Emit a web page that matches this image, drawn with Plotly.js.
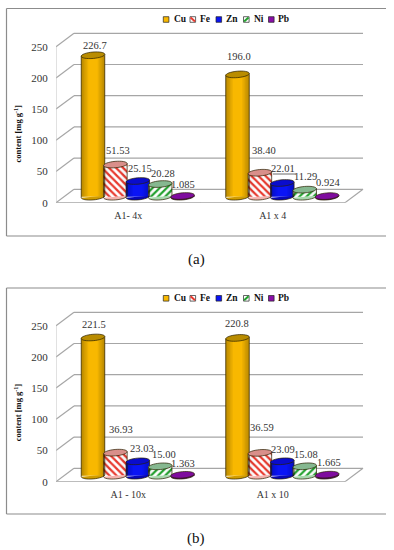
<!DOCTYPE html>
<html><head><meta charset="utf-8">
<script src="https://cdn.plot.ly/plotly-3.0.1.min.js"></script>
<style>html,body{margin:0;padding:0;background:#fff}</style></head>
<body><div id="chart" style="width:394px;height:550px"></div>
<script>
// ---- data ----
const seriesNames = ['Cu','Fe','Zn','Ni','Pb'];
const categoriesA = ['A1- 4x','A1 x 4'];
const categoriesB = ['A1 - 10x','A1 x 10'];
const cuA = ['226.7','196.0'], feA = ['51.53','38.40'], znA = ['25.15','22.01'], niA = ['20.28','11.29'], pbA = ['1.085','0.924'];
const cuB = ['221.5','220.8'], feB = ['36.93','36.59'], znB = ['23.03','23.09'], niB = ['15.00','15.08'], pbB = ['1.363','1.665'];
const yTicks = [0,50,100,150,200,250];
const yTitle = 'content [mg g<sup>-1</sup>]';

// ---- label nudges in px [dx, up], per series then group ----
const nudgeA = [[[2,10],[1,18]],[[3,14.5],[4,22.7]],[[2,13],[1,14]],[[3,11],[1,12.7]],[[0,12],[1,14]]];
const nudgeB = [[[1,12.5],[-1,14.6]],[[6,23.6],[2,25]],[[4,13.3],[1,11.3]],[[4,12.3],[1,11.3]],[[0,11.5],[2,12.4]]];

// ---- style ----
const W=394,H=550, PXU=144.5, PYU=0.624, SERIF='"Liberation Serif","Times New Roman",serif';
const styles = [
 {fill:'#f8b800',top:'#b98c00',low:'#d09c00',shade:.05},
 {fill:'#ffffff',fg:'#e8392e',pat:'\\',top:'#d98f8a',low:'#f3b3ae',shade:.012},
 {fill:'#0a14f5',top:'#0a0ccc',low:'#0808b8',shade:.04},
 {fill:'#ffffff',fg:'#22a22e',pat:'/',top:'#86b890',low:'#a8d8ae',shade:.012},
 {fill:'#8a0fa8',top:'#7f0c9e',low:'#5a0878',shade:.03}
];
const grid='#a6a6a6', HALF=11.8, BH=3.2, TILT=-5*Math.PI/180;
const G0=93-56, BASE=6/PYU;
const barX=(g,s)=>g+(G0+s*22.4)/PXU;
const px=x=>x/W, py=y=>1-y/H;

const data=[], shapes=[], annotations=[];

function ell(cx,cy,t){ // point on tilted ellipse, in data units
  const ex=HALF*Math.cos(t), ey=BH*Math.sin(t);
  const dx=ex*Math.cos(TILT)-ey*Math.sin(TILT), dy=ex*Math.sin(TILT)+ey*Math.cos(TILT);
  return [cx+dx/PXU, cy-dy/PYU];
}
function ellPath(cx,cy){let p='';for(let i=0;i<32;i++){const q=ell(cx,cy,i/32*2*Math.PI);p+=(i?'L':'M')+q[0]+','+q[1];}return p+'Z';}

function panel(sfx,cats,vals,nudge,legendY){
  const xa='x'+sfx, ya='y'+sfx;
  const wallDY=13.4/PYU, wallDX=18/PXU, xEnd=2;
  const sh=(o)=>shapes.push(Object.assign({xref:xa,yref:ya},o));
  // walls
  yTicks.forEach(t=>{
    sh({type:'line',layer:'below',x0:wallDX,x1:xEnd+wallDX,y0:t+wallDY,y1:t+wallDY,line:{color:grid,width:1.2}});
    sh({type:'line',layer:'below',x0:0,x1:wallDX,y0:t,y1:t+wallDY,line:{color:grid,width:1.2}});
  });
  sh({type:'line',layer:'below',x0:xEnd,x1:xEnd+wallDX,y0:0,y1:wallDY,line:{color:grid,width:1.2}});
  sh({type:'line',layer:'below',x0:0,x1:xEnd,y0:0,y1:0,line:{color:grid,width:1.4}});
  sh({type:'line',layer:'below',x0:0,x1:0,y0:0,y1:250,line:{color:'#c4c4c4',width:1}});
  [0,1,2].forEach(v=>sh({type:'line',layer:'below',x0:v,x1:v,y0:0,y1:-3/PYU,line:{color:grid,width:1.2}}));

  seriesNames.forEach((name,s)=>{
    const st=styles[s], v=vals[s].map(Number);
    const xs=cats.map((c,g)=>barX(g,s));
    data.push({type:'bar',name:name,x:xs,y:v,base:v.map(()=>BASE),width:2*HALF/PXU,xaxis:xa,yaxis:ya,showlegend:false,
      marker:{color:st.fill,line:{width:0},pattern:st.pat?{shape:st.pat,fgcolor:st.fg,bgcolor:'#fff',size:5,solidity:.45}:undefined},hoverinfo:'x+y'});
    cats.forEach((c,g)=>{
      const cx=xs[g], top=BASE+v[g], hw=HALF/PXU;
      // cylinder shading
      for(let i=1;i<=5;i++){
        const w=hw*(i/5)*0.6;
        [[cx-hw,cx-hw+w],[cx+hw-w,cx+hw]].forEach(r=>sh({type:'rect',layer:'above',x0:r[0],x1:r[1],y0:BASE,y1:top,line:{width:0},fillcolor:'#000',opacity:st.shade}));
      }
      // silhouette with the lower half of the base
      const b=ell(cx,BASE,Math.PI), c2=ell(cx,top,0), d=ell(cx,top,Math.PI);
      let p='M'+d[0]+','+d[1]+'L'+b[0]+','+b[1], hp='M'+b[0]+','+b[1];
      for(let i=1;i<=16;i++){const q=ell(cx,BASE,Math.PI-i/16*Math.PI);p+='L'+q[0]+','+q[1];hp+='L'+q[0]+','+q[1];}
      p+='L'+c2[0]+','+c2[1];
      sh({type:'path',layer:'above',path:hp+'Z',fillcolor:st.low,line:{width:0}});
      sh({type:'path',layer:'above',path:p,line:{color:'#2a2000',width:.7}});
      // top ellipse
      sh({type:'path',layer:'above',path:ellPath(cx,top),fillcolor:st.top,line:{color:'#2a2000',width:.7}});
      // label
      annotations.push({xref:xa,yref:ya,x:cx,y:top,text:vals[s][g],showarrow:false,xanchor:'center',yanchor:'middle',
        xshift:nudge[s][g][0],yshift:nudge[s][g][1],font:{family:SERIF,size:10.5,color:'#333'}});
    });
  });
  // axis title
  annotations.push({xref:'paper',yref:'paper',x:px(18),y:py(legendY+114),text:yTitle,textangle:-90,showarrow:false,
    xanchor:'center',yanchor:'middle',font:{family:SERIF,size:8.5,color:'#111',weight:700}});
  // legend
  const lx=[163.3,190,216,243.5,268.5], tx=[171.5,198,223.5,251.5,276];
  seriesNames.forEach((n,s)=>{
    const st=styles[s], y=legendY;
    shapes.push({type:'rect',xref:'paper',yref:'paper',x0:px(lx[s]),x1:px(lx[s]+5.6),y0:py(y+2.8),y1:py(y-2.8),
      fillcolor:st.pat?'#fff':st.fill,line:{color:'#222',width:.7}});
    if(st.pat){
      const f=st.pat==='/';
      shapes.push({type:'line',xref:'paper',yref:'paper',x0:px(lx[s]+.6),x1:px(lx[s]+5),y0:py(y+(f?2:-2)),y1:py(y+(f?-2:2)),line:{color:st.fg,width:2}});
    }
    annotations.push({xref:'paper',yref:'paper',x:px(tx[s]),y:py(y),text:n,showarrow:false,xanchor:'left',yanchor:'middle',
      font:{family:SERIF,size:9.5,color:'#111',weight:700}});
  });
}

const xBase={range:[0,309/PXU],tickmode:'array',tickvals:[.5,1.5],showgrid:false,zeroline:false,showline:false,
  ticks:'outside',ticklen:3,tickcolor:'rgba(0,0,0,0)',tickfont:{family:SERIF,size:10,color:'#333'}};
const yBase={range:[0,172.7/PYU],tickmode:'array',tickvals:yTicks,ticktext:yTicks.map(String),showgrid:false,zeroline:false,showline:false,
  ticks:'outside',ticklen:5,tickcolor:'rgba(0,0,0,0)',tickfont:{family:SERIF,size:11,color:'#333'}};

panel('',categoriesA,[cuA,feA,znA,niA,pbA],nudgeA,19.5);
panel('2',categoriesB,[cuB,feB,znB,niB,pbB],nudgeB,298.3);

// leader under the 22.01 label
shapes.push({type:'line',xref:'paper',yref:'paper',x0:px(273),x1:px(296),y0:py(174),y1:py(174),line:{color:'#444',width:.8}});

// frames
[[8.5,236],[288,514]].forEach(f=>{
  [[6.5,f[0],386,f[0]],[6.5,f[1],386,f[1]],[6.5,f[0],6.5,f[1]]].forEach(l=>
    shapes.push({type:'line',xref:'paper',yref:'paper',x0:px(l[0]),x1:px(l[2]),y0:py(l[1]),y1:py(l[3]),line:{color:'#8c8c8c',width:1.2}}));
});
// captions
[['(a)',259],['(b)',538]].forEach(c=>annotations.push({xref:'paper',yref:'paper',x:px(196),y:py(c[1]),text:c[0],showarrow:false,
  xanchor:'center',yanchor:'middle',font:{family:SERIF,size:15,color:'#111'}}));

const layout={width:W,height:H,margin:{l:0,r:0,t:0,b:0},paper_bgcolor:'#fff',plot_bgcolor:'rgba(0,0,0,0)',barmode:'overlay',showlegend:false,
  xaxis:Object.assign({},xBase,{domain:[56/W,365/W],ticktext:categoriesA,anchor:'y'}),
  yaxis:Object.assign({},yBase,{domain:[py(202.7),py(30)],anchor:'x'}),
  xaxis2:Object.assign({},xBase,{domain:[56/W,365/W],ticktext:categoriesB,anchor:'y2'}),
  yaxis2:Object.assign({},yBase,{domain:[py(481.7),py(309)],anchor:'x2'}),
  shapes:shapes,annotations:annotations};
Plotly.newPlot('chart',data,layout,{displayModeBar:false,staticPlot:true});
</script></body></html>
